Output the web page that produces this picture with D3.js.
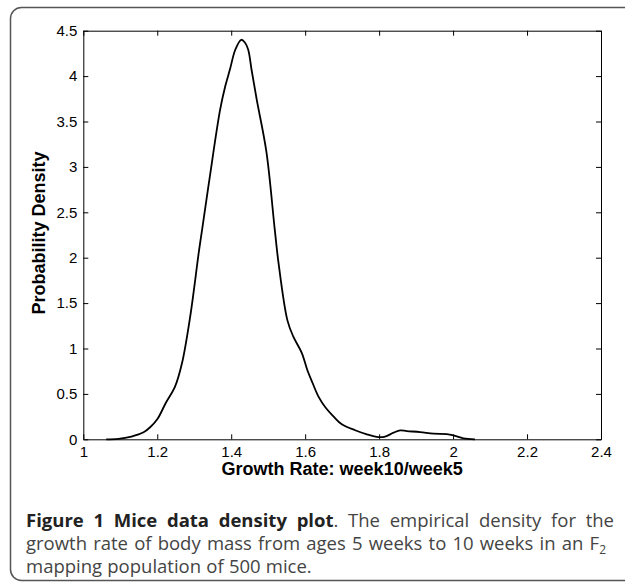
<!DOCTYPE html>
<html>
<head>
<meta charset="utf-8">
<script src="https://cdn.jsdelivr.net/npm/d3@7"></script>
<style>
  html, body { margin: 0; padding: 0; background: #fff; }
  svg { display: block; }
  .tick line, .domain { stroke: #000; }
  .axis-title { font-family: "Liberation Sans", Arial, Helvetica, sans-serif; font-size: 18px; font-weight: bold; fill: #000; }
  .caption text { font-family: "Open Sans", sans-serif; font-size: 18.5px; fill: #444; }
</style>
</head>
<body>
<svg id="chart" width="625" height="583"></svg>
<script>
// ---------------------------------------------------------------------------------------------
// DATA ----------------------------------------------------------------------------------------
// ---------------------------------------------------------------------------------------------

// Growth rate (x) and estimated density (y)
var growthRate = [1.062, 1.095, 1.13, 1.163, 1.18, 1.2, 1.223, 1.248, 1.267, 1.289, 1.313, 1.321,
  1.341, 1.37, 1.384, 1.397, 1.411, 1.427, 1.437, 1.446, 1.455, 1.469, 1.495, 1.518, 1.528, 1.552, 1.568,
  1.591, 1.606, 1.62, 1.636, 1.655, 1.677, 1.699, 1.735, 1.767, 1.798, 1.816, 1.839, 1.857, 1.875,
  1.911, 1.947, 1.983, 2.001, 2.028, 2.059];
var density = [0, 0.005, 0.03, 0.077, 0.13, 0.22, 0.40, 0.58, 0.84, 1.35, 2.08, 2.30,
  2.86, 3.63, 3.89, 4.08, 4.29, 4.40, 4.37, 4.29, 4.07, 3.74, 3.17, 2.30, 1.94, 1.31, 1.13,
  0.95, 0.76, 0.62, 0.47, 0.35, 0.25, 0.165, 0.10, 0.055, 0.025, 0.03, 0.073, 0.098, 0.09,
  0.08, 0.062, 0.058, 0.044, 0.011, 0];

// Tick values and labels
var xTicks = [1, 1.2, 1.4, 1.6, 1.8, 2, 2.2, 2.4];
var xTickLabels = ["1", "1.2", "1.4", "1.6", "1.8", "2", "2.2", "2.4"];
var yTicks = [0, 0.5, 1, 1.5, 2, 2.5, 3, 3.5, 4, 4.5];
var yTickLabels = ["0", "0.5", "1", "1.5", "2", "2.5", "3", "3.5", "4", "4.5"];

// Titles and caption
var xTitle = "Growth Rate: week10/week5";
var yTitle = "Probability Density";
var captionBold = "Figure 1 Mice data density plot";
var captionRest = [
  ". The empirical density for the",
  "growth rate of body mass from ages 5 weeks to 10 weeks in an F",
  "mapping population of 500 mice."
];

// ---------------------------------------------------------------------------------------------
// SETUP ---------------------------------------------------------------------------------------
// ---------------------------------------------------------------------------------------------
var svg = d3.select("#chart");

var plot = { left: 83.3, right: 601, top: 30.7, bottom: 439.3 };
var tickFont = "'Liberation Sans', Arial, Helvetica, sans-serif";

var x = d3.scaleLinear().domain([1, 2.4]).range([plot.left, plot.right]);
var y = d3.scaleLinear().domain([0, 4.5]).range([plot.bottom, plot.top]);

// Rounded frame around figure + caption (right edge runs off the page)
svg.append("rect")
  .attr("x", 10.5).attr("y", 7.5)
  .attr("width", 660).attr("height", 573)
  .attr("rx", 11).attr("ry", 11)
  .attr("fill", "none")
  .attr("stroke", "#555")
  .attr("stroke-width", 1.5);

// ---------------------------------------------------------------------------------------------
// AXES ----------------------------------------------------------------------------------------
// ---------------------------------------------------------------------------------------------
svg.append("g")
  .attr("transform", "translate(0," + plot.bottom + ")")
  .call(d3.axisBottom(x).tickValues(xTicks).tickSize(-5).tickSizeOuter(0).tickPadding(7.5)
    .tickFormat(function(d, i) { return xTickLabels[i]; }))
  .attr("font-size", 15).attr("font-family", tickFont);

svg.append("g")
  .attr("transform", "translate(0," + plot.top + ")")
  .call(d3.axisTop(x).tickValues(xTicks).tickSize(-5).tickSizeOuter(0).tickFormat(""));

svg.append("g")
  .attr("transform", "translate(" + plot.left + ",0)")
  .call(d3.axisLeft(y).tickValues(yTicks).tickSize(-5).tickSizeOuter(0).tickPadding(6)
    .tickFormat(function(d, i) { return yTickLabels[i]; }))
  .attr("font-size", 15).attr("font-family", tickFont);

svg.append("g")
  .attr("transform", "translate(" + plot.right + ",0)")
  .call(d3.axisRight(y).tickValues(yTicks).tickSize(-5).tickSizeOuter(0).tickFormat(""));

// Axis titles
svg.append("text")
  .attr("class", "axis-title")
  .attr("x", (plot.left + plot.right) / 2)
  .attr("y", 475)
  .attr("text-anchor", "middle")
  .text(xTitle);

svg.append("text")
  .attr("class", "axis-title")
  .attr("transform", "translate(45," + 233 + ") rotate(-90)")
  .attr("text-anchor", "middle")
  .text(yTitle);

// ---------------------------------------------------------------------------------------------
// DENSITY CURVE -------------------------------------------------------------------------------
// ---------------------------------------------------------------------------------------------
var points = growthRate.map(function(g, i) { return [g, density[i]]; });

var line = d3.line()
  .x(function(d) { return x(d[0]); })
  .y(function(d) { return Math.min(y(d[1]), plot.bottom); })
  .curve(d3.curveCatmullRom.alpha(0.5));

svg.append("path")
  .datum(points)
  .attr("d", line)
  .attr("fill", "none")
  .attr("stroke", "#000")
  .attr("stroke-width", 1.8)
  .attr("stroke-linejoin", "round");

// ---------------------------------------------------------------------------------------------
// CAPTION -------------------------------------------------------------------------------------
// ---------------------------------------------------------------------------------------------
var cap = svg.append("g").attr("class", "caption");
var capLeft = 26, capRight = 614;
var capBaselines = [527, 550, 573];

// Build words as runs: [text, style]  (b = bold, n = normal, s = subscript)
function wordsOf(str, style) {
  return str.split(" ").filter(function(w) { return w.length; }).map(function(w) { return [[w, style]]; });
}
var line1 = wordsOf(captionBold, "b");
var rest1 = wordsOf(captionRest[0], "n");
line1[line1.length - 1].push(rest1.shift()[0]);   // "plot" + "."
line1 = line1.concat(rest1);
var line2 = wordsOf(captionRest[1], "n");
line2[line2.length - 1].push(["2", "s"]);          // F with subscript 2
var line3 = wordsOf(captionRest[2], "n");

function drawLine(words, baseline, justify, right) {
  var nodes = words.map(function(runs) {
    var t = cap.append("text").attr("y", baseline);
    runs.forEach(function(r) {
      var ts = t.append("tspan").text(r[0]);
      if (r[1] == "b") ts.attr("font-weight", "bold").attr("fill", "#222");
      if (r[1] == "s") ts.attr("font-size", "12px").attr("dy", 4);
    });
    return t;
  });
  var widths = nodes.map(function(t) { return t.node().getComputedTextLength(); });
  var total = d3.sum(widths);
  var gap = justify ? ((right - capLeft) - total) / (words.length - 1) : 5.2;
  var cx = capLeft;
  nodes.forEach(function(t, i) {
    t.attr("x", cx);
    cx += widths[i] + gap;
  });
}

drawLine(line1, capBaselines[0], true, capRight);
drawLine(line2, capBaselines[1], true, 606);
drawLine(line3, capBaselines[2], false);
</script>
</body>
</html>
